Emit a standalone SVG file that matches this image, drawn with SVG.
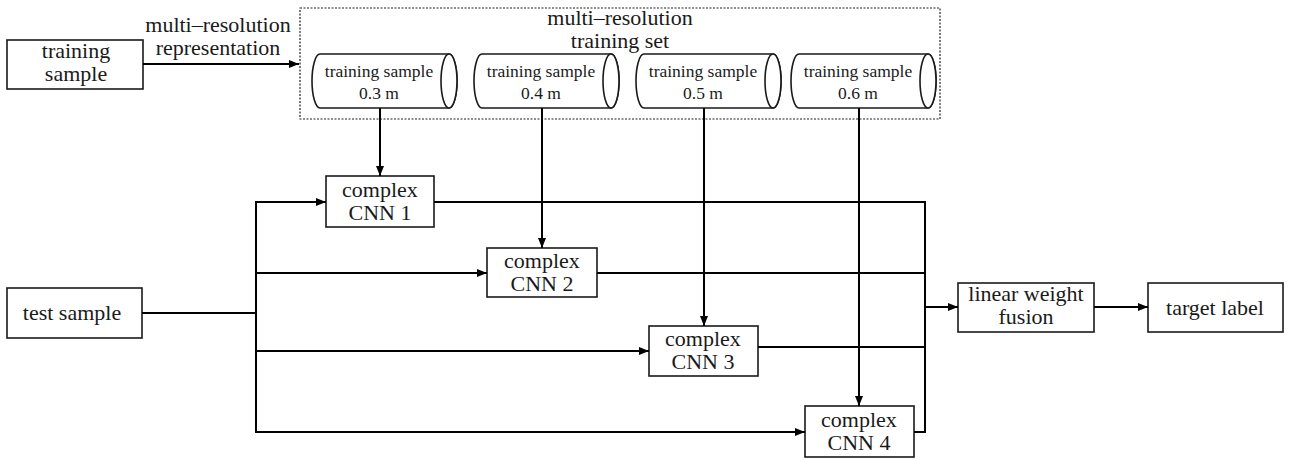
<svg xmlns="http://www.w3.org/2000/svg" width="1289" height="460" viewBox="0 0 1289 460">
<style>
.box{fill:#fff;stroke:#1a1a1a;stroke-width:1.6}
.cyl{fill:#fff;stroke:#1a1a1a;stroke-width:1.6}
.t{font-size:22px;fill:#1a1a1a;text-anchor:middle}
.s{font-size:17.5px;fill:#1a1a1a;text-anchor:middle}
.ln{fill:none;stroke:#000;stroke-width:2}
.arr{fill:none;stroke:#000;stroke-width:2;marker-end:url(#ah)}
.dot{fill:none;stroke:#222;stroke-width:1.2;stroke-dasharray:2 1.5}
</style>
<defs>
<marker id="ah" viewBox="0 0 10 10" refX="10" refY="5" markerWidth="10" markerHeight="10" markerUnits="userSpaceOnUse" orient="auto">
<path d="M0,1 L10,5 L0,9 Z" fill="#000"/>
</marker>
</defs>
<g font-family="'Liberation Serif', Tinos, 'DejaVu Serif', serif">
<g id="training-set">
<rect class="dot" x="300" y="8" width="640" height="111"/>
<text class="t" x="620" y="25">multi–resolution</text>
<text class="t" x="620" y="48">training set</text>
</g>
<g id="training-sample">
<rect class="box" x="7" y="40" width="136" height="49"/>
<text class="t" x="76" y="58">training</text>
<text class="t" x="76" y="81">sample</text>
</g>
<g id="cyl1">
<path class="cyl" d="M320,54 H449 A8,27 0 0 1 449,108 H320 A8,27 0 0 1 320,54 Z"/>
<ellipse class="cyl" cx="449" cy="81" rx="8" ry="27"/>
<text class="s" x="379" y="77">training sample</text>
<text class="s" x="379" y="99">0.3 m</text>
</g>
<g id="cyl2">
<path class="cyl" d="M482,54 H611 A8,27 0 0 1 611,108 H482 A8,27 0 0 1 482,54 Z"/>
<ellipse class="cyl" cx="611" cy="81" rx="8" ry="27"/>
<text class="s" x="541" y="77">training sample</text>
<text class="s" x="541" y="99">0.4 m</text>
</g>
<g id="cyl3">
<path class="cyl" d="M644,54 H773 A8,27 0 0 1 773,108 H644 A8,27 0 0 1 644,54 Z"/>
<ellipse class="cyl" cx="773" cy="81" rx="8" ry="27"/>
<text class="s" x="703" y="77">training sample</text>
<text class="s" x="703" y="99">0.5 m</text>
</g>
<g id="cyl4">
<path class="cyl" d="M799,54 H928 A8,27 0 0 1 928,108 H799 A8,27 0 0 1 799,54 Z"/>
<ellipse class="cyl" cx="928" cy="81" rx="8" ry="27"/>
<text class="s" x="858" y="77">training sample</text>
<text class="s" x="858" y="99">0.6 m</text>
</g>
<g id="cnn1">
<rect class="box" x="326" y="176" width="108" height="51"/>
<text class="t" x="380" y="197">complex</text>
<text class="t" x="380" y="220">CNN 1</text>
</g>
<g id="cnn2">
<rect class="box" x="487" y="248" width="110" height="49"/>
<text class="t" x="542" y="268">complex</text>
<text class="t" x="542" y="291">CNN 2</text>
</g>
<g id="cnn3">
<rect class="box" x="649" y="326" width="109" height="50"/>
<text class="t" x="703" y="346">complex</text>
<text class="t" x="703" y="369">CNN 3</text>
</g>
<g id="cnn4">
<rect class="box" x="805" y="406" width="109" height="51"/>
<text class="t" x="859" y="427">complex</text>
<text class="t" x="859" y="450">CNN 4</text>
</g>
<g id="test-sample">
<rect class="box" x="7" y="288" width="135" height="50"/>
<text class="t" x="72" y="320">test sample</text>
</g>
<g id="fusion">
<rect class="box" x="958" y="283" width="136" height="49"/>
<text class="t" x="1026" y="301">linear weight</text>
<text class="t" x="1026" y="324">fusion</text>
</g>
<g id="target-label">
<rect class="box" x="1148" y="283" width="135" height="49"/>
<text class="t" x="1215" y="315">target label</text>
</g>
<g id="edge-label">
<text class="t" x="218" y="32">multi–resolution</text>
<text class="t" x="218" y="55">representation</text>
</g>
</g>
<g id="connectors">
<line class="arr" x1="143" y1="64" x2="299" y2="64"/>
<line class="arr" x1="380" y1="108" x2="380" y2="176"/>
<line class="arr" x1="542" y1="108" x2="542" y2="248"/>
<line class="arr" x1="704" y1="108" x2="704" y2="326"/>
<line class="arr" x1="859" y1="108" x2="859" y2="406"/>
<line class="ln" x1="142" y1="313" x2="256" y2="313"/>
<line class="ln" x1="256" y1="201" x2="256" y2="433"/>
<line class="arr" x1="255" y1="202" x2="326" y2="202"/>
<line class="arr" x1="256" y1="273" x2="487" y2="273"/>
<line class="arr" x1="256" y1="351" x2="649" y2="351"/>
<line class="arr" x1="255" y1="432" x2="805" y2="432"/>
<polyline class="ln" points="434,202 925,202 925,432 914,432"/>
<line class="ln" x1="597" y1="273" x2="925" y2="273"/>
<line class="ln" x1="758" y1="347" x2="925" y2="347"/>
<line class="arr" x1="925" y1="307" x2="958" y2="307"/>
<line class="arr" x1="1094" y1="307" x2="1148" y2="307"/>
</g>
</svg>
